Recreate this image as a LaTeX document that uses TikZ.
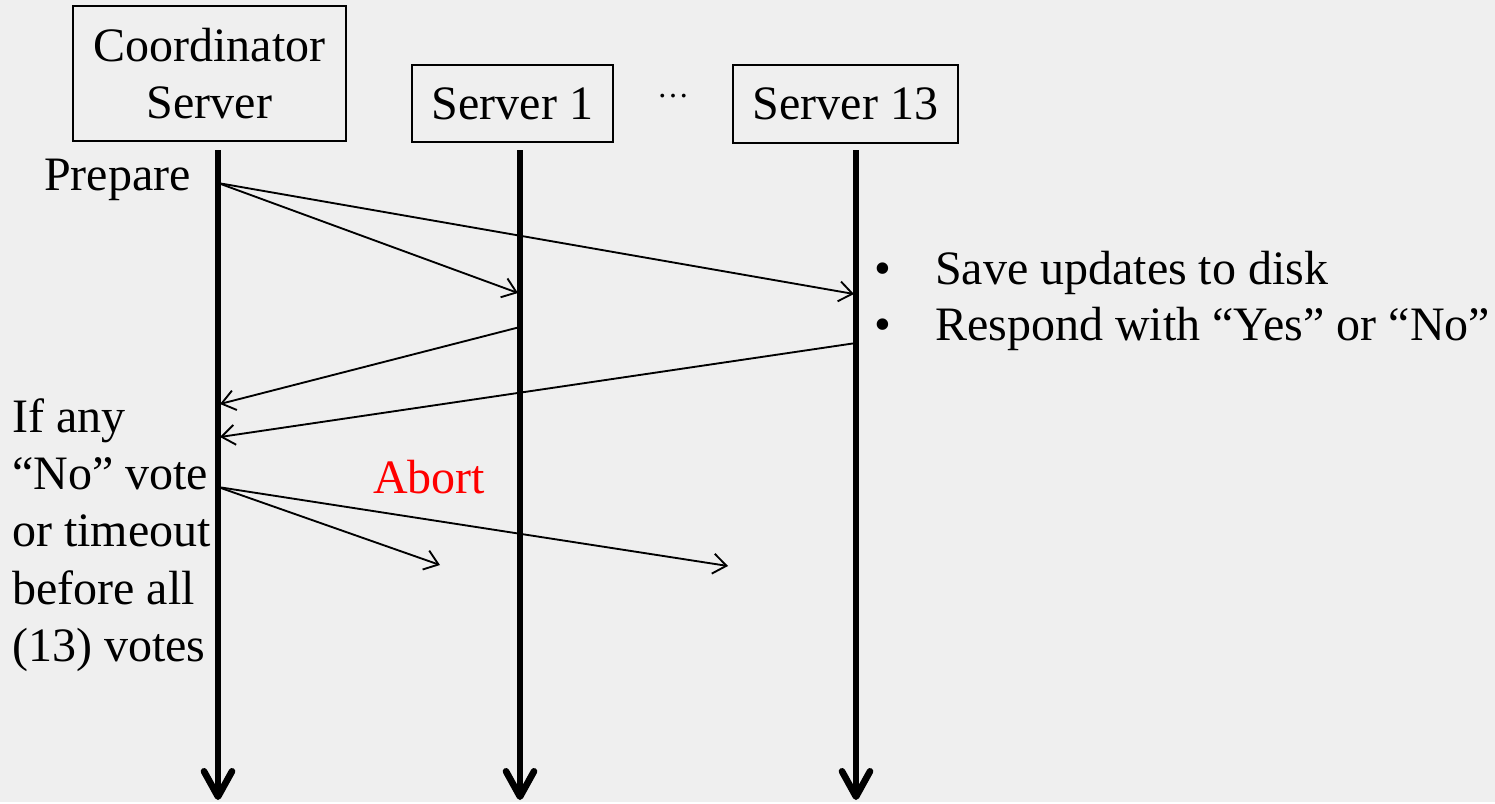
\documentclass[tikz,border=0pt]{standalone}
\usepackage{fontspec}
\setmainfont{Liberation Serif}
\usepackage{xcolor}
\usepackage{tikz}
\usetikzlibrary{arrows.meta}

\definecolor{slidebg}{RGB}{239,239,239}
\tikzset{
    txt/.style={inner sep=0pt, font=\fontsize{36}{43}\selectfont},
    hostbox/.style={draw, line width=1.1pt, inner sep=0pt, align=center, font=\fontsize{36}{43}\selectfont},
    lifeline/.style={line width=5pt, -{Straight Barb[length=19pt, width=21pt, line cap=round, line join=round]}},
    msg/.style={line width=1.4pt, -{Straight Barb[length=10pt, width=15pt]}},
}

\begin{document}
\begin{tikzpicture}[x=0.75pt,y=0.75pt,yscale=-1,xscale=1]
    %Background
    \fill [slidebg] (0,0) rectangle (1495,802);

    %Shape: Rectangle [coordinator]
    \node [hostbox, minimum width=204.75pt, minimum height=101.25pt] (coord) at (209.5,73.5) {Coordinator\\Server};
    %Shape: Rectangle [server 1]
    \node [hostbox, minimum width=150.75pt, minimum height=57.75pt] (srv1) at (512.5,103.5) {Server 1};
    %Shape: Rectangle [server 13]
    \node [hostbox, minimum width=168.75pt, minimum height=58.5pt] (srv13) at (845.5,104) {Server 13};
    % Text Node
    \node [inner sep=0pt, font=\fontsize{24}{28}\selectfont, anchor=base] (dots) at (673,97) {…};

    %Lifelines
    \coordinate (coord-top) at (218,150);  \coordinate (coord-end) at (218,800);
    \coordinate (srv1-top) at (520,150);   \coordinate (srv1-end) at (520,800);
    \coordinate (srv13-top) at (856,150);  \coordinate (srv13-end) at (856,800);
    \draw [lifeline] (coord-top) -- (coord-end);
    \draw [lifeline] (srv1-top) -- (srv1-end);
    \draw [lifeline] (srv13-top) -- (srv13-end);

    %Message points
    \coordinate (coord-prep) at (218,183);
    \coordinate (srv1-prep) at (518,293);
    \coordinate (srv13-prep) at (854,294);
    \coordinate (srv1-vote) at (520,327);
    \coordinate (coord-vote1) at (220,404);
    \coordinate (srv13-vote) at (856,343);
    \coordinate (coord-vote2) at (220,437);
    \coordinate (coord-abort) at (218,487);
    \coordinate (abort-1) at (440,565);
    \coordinate (abort-13) at (728,566);

    %Straight Lines [prepare]
    \draw [msg] (coord-prep) -- (srv1-prep);
    \draw [msg] (coord-prep) -- (srv13-prep);
    %Straight Lines [votes]
    \draw [msg] (srv1-vote) -- (coord-vote1);
    \draw [msg] (srv13-vote) -- (coord-vote2);
    %Straight Lines [abort]
    \draw [msg] (coord-abort) -- (abort-1);
    \draw [msg] (coord-abort) -- (abort-13);

    % Text Node
    \node [txt, anchor=base east] (prepare) at (191,190) {Prepare};
    % Text Node
    \node [txt, anchor=base west, text=red] (abort) at (373,493) {Abort};
    % Text Node
    \node [txt, anchor=north west, align=left] (rule) at (12,398) {If any\\“No” vote\\or timeout\\before all\\(13) votes};
    % Text Node
    \node [txt, anchor=base west] (steps) at (874,284) {\begin{tabular}[t]{@{}l@{\hspace{33pt}}l@{}}\textbullet & Save updates to disk\\[-0.3pt] \textbullet & Respond with “Yes” or “No”\end{tabular}};
\end{tikzpicture}
\end{document}
